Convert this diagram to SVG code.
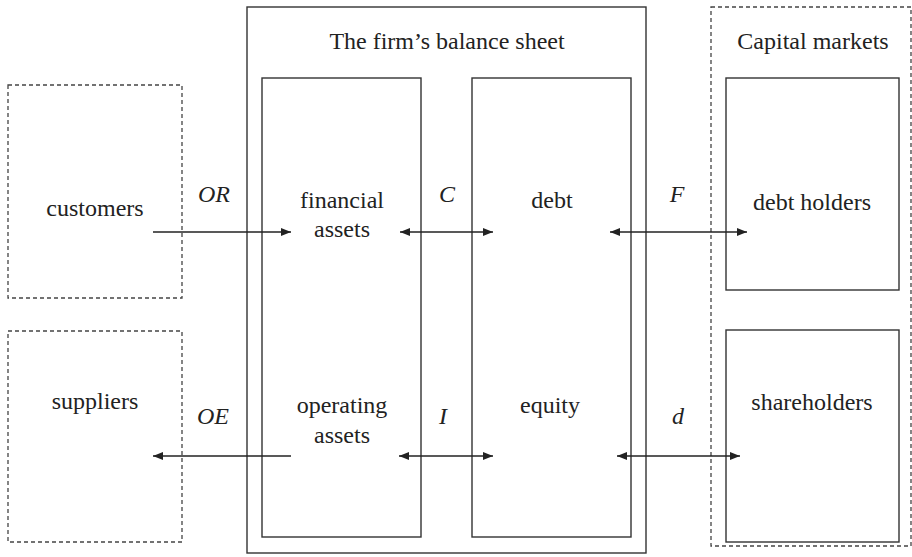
<svg xmlns="http://www.w3.org/2000/svg" width="912" height="557" viewBox="0 0 912 557">
<defs>
<marker id="ah" viewBox="0 0 10 8" refX="10" refY="4" markerWidth="10" markerHeight="8" markerUnits="userSpaceOnUse" orient="auto-start-reverse">
<path d="M0,0 L10,4 L0,8 Z" fill="#222"/>
</marker>
</defs>
<style>
.solid{fill:none;stroke:#333;stroke-width:1.4}
.dash{fill:none;stroke:#444;stroke-width:1.3;stroke-dasharray:4,3}
.t{font-family:"Liberation Serif","Times New Roman",serif;font-size:24px;fill:#222;text-anchor:middle}
.i{font-style:italic}
.c{stroke:#222;stroke-width:1.4;fill:none}
</style>
<rect width="912" height="557" fill="#fff"/>
<g id="balance-sheet">
<rect class="solid" x="247" y="7" width="399" height="546"/>
<text class="t" x="447" y="49">The firm’s balance sheet</text>
</g>
<g id="assets">
<rect class="solid" x="262" y="78" width="159" height="459"/>
</g>
<g id="liabilities">
<rect class="solid" x="472" y="78" width="159" height="459"/>
</g>
<g id="capital-markets">
<rect class="dash" x="711" y="7" width="200" height="539"/>
<text class="t" x="813" y="49">Capital markets</text>
</g>
<g id="debt-holders">
<rect class="solid" x="726" y="78" width="173" height="212"/>
<text class="t" x="812" y="210">debt holders</text>
</g>
<g id="shareholders">
<rect class="solid" x="726" y="330" width="173" height="212"/>
<text class="t" x="812" y="410">shareholders</text>
</g>
<g id="customers">
<rect class="dash" x="8" y="85" width="174" height="213"/>
<text class="t" x="95" y="216">customers</text>
</g>
<g id="suppliers">
<rect class="dash" x="8" y="331" width="174" height="211"/>
<text class="t" x="95" y="409">suppliers</text>
</g>
<g id="financial-assets">
<text class="t" x="342" y="208">financial</text>
<text class="t" x="342" y="237">assets</text>
</g>
<g id="operating-assets">
<text class="t" x="342" y="413">operating</text>
<text class="t" x="342" y="443">assets</text>
</g>
<g id="debt">
<text class="t" x="552" y="208">debt</text>
</g>
<g id="equity">
<text class="t" x="550" y="413">equity</text>
</g>
<g id="connectors">
<line class="c" x1="153" y1="232" x2="291" y2="232" marker-end="url(#ah)"/>
<line class="c" x1="400" y1="232" x2="493" y2="232" marker-start="url(#ah)" marker-end="url(#ah)"/>
<line class="c" x1="610" y1="232" x2="747" y2="232" marker-start="url(#ah)" marker-end="url(#ah)"/>
<line class="c" x1="291" y1="456" x2="153" y2="456" marker-end="url(#ah)"/>
<line class="c" x1="399" y1="456" x2="493" y2="456" marker-start="url(#ah)" marker-end="url(#ah)"/>
<line class="c" x1="617" y1="456" x2="740" y2="456" marker-start="url(#ah)" marker-end="url(#ah)"/>
<text class="t i" x="214" y="202">OR</text>
<text class="t i" x="447" y="202">C</text>
<text class="t i" x="677" y="202">F</text>
<text class="t i" x="213" y="424">OE</text>
<text class="t i" x="443" y="424">I</text>
<text class="t i" x="678" y="424">d</text>
</g>
</svg>
